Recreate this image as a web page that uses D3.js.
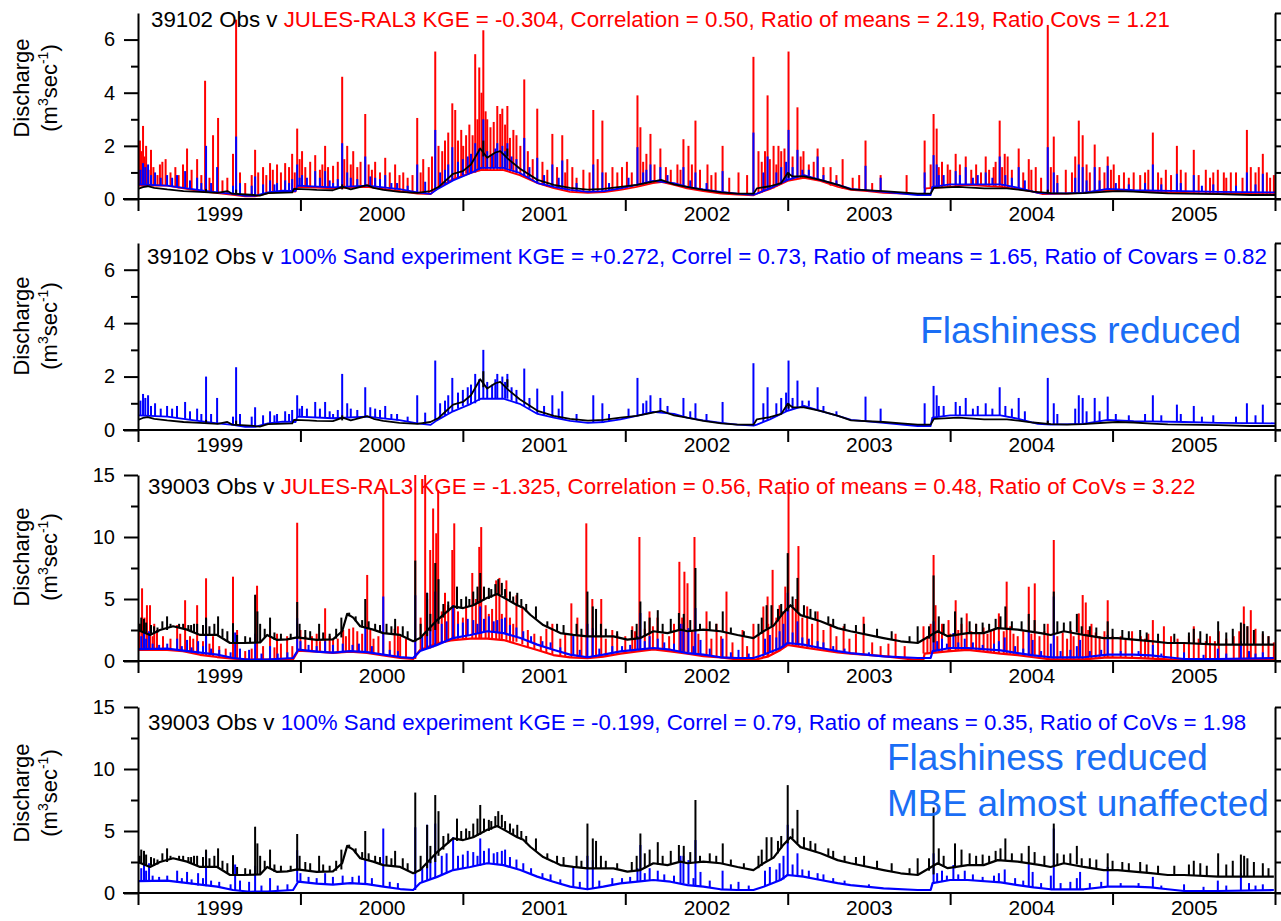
<!DOCTYPE html>
<html>
<head>
<meta charset="utf-8">
<script src="https://cdn.jsdelivr.net/npm/d3@7"></script>
<style>
  body { margin: 0; background: #fff; }
  svg { display: block; font-family: 'Liberation Sans', Arial, sans-serif; }
  .axis path, .axis line { stroke: #000; stroke-width: 2px; }
  .axis text { font-size: 20px; fill: #000; font-family: 'Liberation Sans', Arial, sans-serif; }
  .years text { font-size: 21px; }
  .base { fill: none; stroke-linejoin: round; }
  .ral { stroke: #ff0000; }
  .sand { stroke: #0000ff; }
  .obs { stroke: #000; }
  .title { font-size: 22.3px; }
  .note { font-size: 37px; fill: #1a6ef5; }
  .ylab { font-size: 22px; }
</style>
</head>
<body>
<svg id="chart" width="1281" height="921"></svg>
<script>
  // decimal years, discharge in m3/s
  const years = [1999, 2000, 2001, 2002, 2003, 2004, 2005];
  const yearEdges = [1999, 2000, 2001, 2002, 2003, 2004, 2005, 2006];

  // ---- station 39102 ----
  // observed (black) base flow [time, value]
  const obs102Base = [[1999.0,0.38],[1999.03,0.45],[1999.06,0.48],[1999.1,0.42],[1999.18,0.36],[1999.28,0.3],[1999.38,0.27],[1999.49,0.23],[1999.55,0.3],[1999.58,0.2],[1999.69,0.16],[1999.75,0.13],[1999.8,0.22],[1999.86,0.23],[1999.95,0.25],[1999.96,0.38],[2000.05,0.36],[2000.1,0.34],[2000.2,0.33],[2000.26,0.46],[2000.31,0.36],[2000.41,0.52],[2000.45,0.42],[2000.51,0.34],[2000.61,0.27],[2000.72,0.23],[2000.8,0.3],[2000.85,0.45],[2000.94,0.95],[2001.0,1.05],[2001.05,1.3],[2001.107,1.9],[2001.15,1.55],[2001.2,1.75],[2001.23,1.8],[2001.28,1.5],[2001.35,1.15],[2001.46,0.72],[2001.56,0.53],[2001.66,0.42],[2001.77,0.35],[2001.865,0.38],[2001.97,0.46],[2002.07,0.53],[2002.17,0.65],[2002.22,0.72],[2002.3,0.55],[2002.38,0.46],[2002.48,0.34],[2002.59,0.25],[2002.69,0.2],[2002.79,0.2],[2002.81,0.4],[2002.89,0.48],[2002.96,0.6],[2003.0,0.98],[2003.03,0.85],[2003.1,0.85],[2003.2,0.72],[2003.31,0.53],[2003.39,0.36],[2003.59,0.3],[2003.7,0.25],[2003.8,0.2],[2003.88,0.2],[2003.9,0.42],[2004.05,0.46],[2004.21,0.4],[2004.35,0.4],[2004.42,0.35],[2004.51,0.28],[2004.62,0.22],[2004.72,0.2],[2004.82,0.22],[2004.97,0.28],[2005.03,0.3],[2005.13,0.28],[2005.24,0.24],[2005.34,0.21],[2005.44,0.2],[2005.65,0.18],[2005.85,0.15],[2006.0,0.15]];
  // spikes: [time, peak, foot]
  const obs102Spikes = [[1999.419,0.38,0.27],[1999.604,0.35,0.18],[2000.257,0.55,0.36],[2001.126,2.2,1.6],[2001.274,1.9,1.6],[2003.005,1.0,0.8],[2004.601,0.35,0.2]];

  // JULES-RAL3 (red)
  const ral102Base = [[1999.0,0.5],[1999.18,0.5],[1999.38,0.3],[1999.49,0.22],[1999.585,0.16],[1999.66,0.1],[1999.72,0.1],[1999.8,0.22],[1999.89,0.3],[1999.97,0.28],[1999.98,0.46],[2000.2,0.4],[2000.41,0.46],[2000.61,0.3],[2000.72,0.2],[2000.8,0.18],[2000.84,0.4],[2000.94,0.75],[2001.05,0.98],[2001.11,1.09],[2001.25,1.09],[2001.35,0.9],[2001.46,0.6],[2001.56,0.41],[2001.66,0.27],[2001.77,0.23],[2001.87,0.26],[2001.97,0.34],[2002.07,0.46],[2002.17,0.6],[2002.22,0.64],[2002.3,0.53],[2002.38,0.4],[2002.48,0.3],[2002.59,0.2],[2002.69,0.17],[2002.79,0.14],[2002.81,0.2],[2002.89,0.37],[2003.0,0.68],[2003.1,0.8],[2003.2,0.68],[2003.31,0.46],[2003.39,0.34],[2003.49,0.3],[2003.59,0.23],[2003.8,0.18],[2003.84,0.17],[2003.85,0.4],[2004.0,0.46],[2004.1,0.53],[2004.31,0.46],[2004.42,0.37],[2004.51,0.28],[2004.57,0.18],[2004.72,0.2],[2004.82,0.23],[2004.97,0.34],[2005.13,0.3],[2005.24,0.27],[2005.44,0.23],[2005.65,0.2],[2006.0,0.18]];
  const ral102Spikes = [[1999.012,2.2,0.5],[1999.031,2.75,0.5],[1999.05,2.0,0.5],[1999.08,1.85,0.5],[1999.15,1.4,0.5],[1999.17,1.5,0.5],[1999.277,1.3,0.45],[1999.302,1.9,0.42],[1999.364,1.5,0.33],[1999.413,4.45,0.3],[1999.462,2.4,0.25],[1999.493,3.05,0.22],[1999.585,1.7,0.16],[1999.604,6.75,0.15],[1999.628,1.0,0.13],[1999.721,1.85,0.1],[1999.77,1.2,0.15],[1999.813,1.35,0.22],[1999.856,1.3,0.26],[1999.906,1.35,0.3],[1999.949,1.7,0.28],[1999.98,2.65,0.46],[2000.01,1.8,0.46],[2000.091,1.65,0.44],[2000.152,2.0,0.42],[2000.201,1.25,0.4],[2000.257,4.6,0.42],[2000.288,2.0,0.44],[2000.325,1.8,0.44],[2000.399,3.2,0.46],[2000.46,1.4,0.42],[2000.522,1.55,0.38],[2000.583,1.3,0.33],[2000.633,1.0,0.28],[2000.719,3.05,0.2],[2000.756,1.5,0.19],[2000.83,5.55,0.3],[2000.873,1.8,0.5],[2000.935,3.6,0.7],[2000.953,3.35,0.75],[2001.002,2.0,0.9],[2001.076,5.45,1.0],[2001.101,4.95,1.05],[2001.126,6.35,1.09],[2001.15,3.0,1.09],[2001.212,3.5,1.09],[2001.243,3.4,1.09],[2001.274,3.5,1.05],[2001.311,2.6,1.0],[2001.354,2.0,0.9],[2001.378,4.5,0.85],[2001.458,3.4,0.6],[2001.52,1.1,0.45],[2001.551,2.45,0.41],[2001.612,2.4,0.33],[2001.643,1.5,0.29],[2001.674,1.2,0.27],[2001.742,1.1,0.23],[2001.803,3.35,0.24],[2001.859,2.95,0.26],[2001.921,1.2,0.3],[2001.951,1.0,0.32],[2002.075,3.9,0.46],[2002.093,2.7,0.48],[2002.155,2.45,0.6],[2002.216,1.9,0.64],[2002.321,1.3,0.53],[2002.358,2.25,0.46],[2002.389,2.0,0.4],[2002.432,2.95,0.35],[2002.506,1.3,0.3],[2002.556,1.0,0.24],[2002.599,2.0,0.2],[2002.697,1.0,0.17],[2002.789,5.35,0.14],[2002.82,1.8,0.2],[2002.876,3.9,0.33],[2002.913,2.0,0.4],[2002.943,2.0,0.5],[2003.005,5.55,0.68],[2003.06,3.45,0.75],[2003.097,1.8,0.8],[2003.184,1.9,0.7],[2003.264,1.2,0.5],[2003.338,1.5,0.38],[2003.479,2.2,0.3],[2003.572,0.9,0.25],[2003.732,0.9,0.19],[2003.843,2.2,0.4],[2003.898,3.2,0.42],[2003.917,2.65,0.42],[2003.985,1.3,0.46],[2004.034,1.7,0.48],[2004.096,1.6,0.53],[2004.219,1.6,0.5],[2004.268,1.2,0.47],[2004.305,2.95,0.46],[2004.336,1.7,0.44],[2004.354,1.6,0.43],[2004.422,1.9,0.37],[2004.484,1.5,0.3],[2004.527,1.2,0.25],[2004.601,6.55,0.18],[2004.638,2.35,0.18],[2004.712,1.1,0.2],[2004.792,2.95,0.22],[2004.816,2.4,0.22],[2004.89,2.05,0.28],[2004.97,1.6,0.34],[2005.007,1.3,0.33],[2005.13,1.0,0.3],[2005.248,2.5,0.27],[2005.328,1.1,0.25],[2005.396,2.0,0.24],[2005.5,1.85,0.23],[2005.574,1.1,0.22],[2005.648,1.1,0.2],[2005.685,1.0,0.2],[2005.728,1.0,0.2],[2005.827,2.6,0.19],[2005.851,1.2,0.19],[2005.925,1.7,0.18],[2005.993,0.9,0.18]];
  const ral102Small = [[1999.02,1.8,0.5],[1999.04,1.6,0.5],[1999.065,1.1,0.5],[1999.095,1.2,0.5],[1999.12,0.9,0.5],[1999.135,1.3,0.5],[1999.2,1.0,0.45],[1999.23,1.2,0.45],[1999.25,0.9,0.4],[1999.33,1.1,0.35],[1999.39,0.9,0.3],[1999.44,0.8,0.25],[1999.52,0.7,0.2],[1999.55,0.8,0.18],[1999.66,0.6,0.12],[1999.7,0.9,0.1],[1999.74,1.0,0.12],[1999.79,0.9,0.2],[1999.83,1.1,0.24],[1999.88,1.0,0.28],[1999.93,1.2,0.29],[1999.965,1.0,0.3],[1999.995,1.5,0.46],[2000.03,1.2,0.46],[2000.06,1.4,0.45],[2000.12,1.1,0.44],[2000.135,1.3,0.43],[2000.17,1.2,0.42],[2000.23,1.4,0.41],[2000.27,1.5,0.43],[2000.31,1.3,0.44],[2000.35,1.2,0.45],[2000.37,1.4,0.45],[2000.42,1.3,0.45],[2000.44,1.1,0.43],[2000.49,1.0,0.4],[2000.55,1.0,0.35],[2000.61,0.9,0.3],[2000.66,0.8,0.25],[2000.69,0.9,0.22],[2000.74,1.0,0.2],[2000.79,1.2,0.2],[2000.81,1.6,0.25],[2000.85,2.0,0.4],[2000.89,2.2,0.55],[2000.91,2.5,0.6],[2000.97,2.2,0.8],[2000.99,2.6,0.85],[2001.02,2.4,0.95],[2001.04,2.8,0.97],[2001.06,2.4,1.0],[2001.09,3.0,1.05],[2001.115,4.0,1.08],[2001.14,3.3,1.09],[2001.17,2.7,1.09],[2001.19,2.9,1.09],[2001.23,3.2,1.09],[2001.26,2.8,1.08],[2001.29,2.3,1.02],[2001.33,2.4,0.95],[2001.4,1.8,0.8],[2001.43,1.5,0.7],[2001.49,1.4,0.52],[2001.58,1.2,0.38],[2001.63,1.0,0.3],[2001.7,0.8,0.25],[2001.78,1.0,0.23],[2001.83,1.5,0.25],[2001.88,1.0,0.27],[2001.98,1.2,0.35],[2002.01,1.4,0.4],[2002.04,1.0,0.43],[2002.11,1.4,0.5],[2002.13,1.7,0.55],[2002.18,1.3,0.6],[2002.25,1.2,0.6],[2002.28,1.1,0.56],[2002.34,1.1,0.5],[2002.41,1.3,0.37],[2002.46,1.1,0.32],[2002.53,0.9,0.27],[2002.64,0.8,0.18],[2002.75,0.9,0.15],[2002.84,1.4,0.25],[2002.86,1.8,0.3],[2002.89,1.5,0.37],[2002.93,1.3,0.45],[2002.96,1.8,0.55],[2002.98,1.9,0.62],[2003.03,1.6,0.72],[2003.08,1.6,0.78],[2003.13,1.3,0.78],[2003.16,1.4,0.75],[2003.22,1.2,0.65],[2003.3,0.9,0.48],[2003.4,0.8,0.34],[2003.44,0.9,0.32],[2003.52,0.6,0.28],[2003.88,1.3,0.4],[2003.93,1.2,0.43],[2003.95,1.4,0.44],[2004.0,1.1,0.46],[2004.06,1.3,0.5],[2004.13,1.1,0.53],[2004.16,1.3,0.52],[2004.19,1.0,0.51],[2004.24,1.1,0.49],[2004.28,1.4,0.47],[2004.32,1.2,0.45],[2004.38,1.1,0.4],[2004.45,1.0,0.35],[2004.5,1.1,0.3],[2004.56,0.8,0.2],[2004.62,1.2,0.18],[2004.66,0.9,0.19],[2004.75,1.0,0.21],[2004.77,1.6,0.22],[2004.84,1.3,0.24],[2004.86,1.0,0.25],[2004.92,1.2,0.3],[2004.95,1.0,0.32],[2004.99,1.1,0.34],[2005.04,0.9,0.33],[2005.07,1.0,0.32],[2005.1,0.8,0.31],[2005.17,0.9,0.29],[2005.2,1.0,0.28],[2005.22,1.1,0.28],[2005.28,1.0,0.26],[2005.3,0.8,0.26],[2005.36,0.9,0.25],[2005.42,1.1,0.24],[2005.45,1.0,0.23],[2005.53,0.9,0.23],[2005.6,0.8,0.22],[2005.62,1.0,0.21],[2005.7,0.8,0.2],[2005.76,1.0,0.2],[2005.8,0.8,0.19],[2005.88,1.0,0.19],[2005.9,1.2,0.18],[2005.95,1.0,0.18],[2005.97,0.8,0.18]];

  // 100% sand experiment (blue)
  const sand102Base = [[1999.0,0.55],[1999.18,0.5],[1999.38,0.33],[1999.49,0.25],[1999.585,0.19],[1999.66,0.12],[1999.72,0.12],[1999.8,0.25],[1999.89,0.31],[1999.97,0.3],[1999.98,0.5],[2000.2,0.44],[2000.41,0.5],[2000.61,0.37],[2000.72,0.25],[2000.8,0.19],[2000.84,0.36],[2000.94,0.7],[2001.05,0.98],[2001.11,1.17],[2001.25,1.17],[2001.35,0.98],[2001.46,0.6],[2001.56,0.46],[2001.66,0.34],[2001.77,0.27],[2001.87,0.3],[2001.97,0.4],[2002.07,0.53],[2002.17,0.68],[2002.3,0.6],[2002.38,0.46],[2002.48,0.36],[2002.59,0.27],[2002.69,0.2],[2002.79,0.16],[2002.81,0.2],[2002.89,0.4],[2003.0,0.72],[2003.1,0.9],[2003.2,0.72],[2003.31,0.53],[2003.39,0.38],[2003.59,0.27],[2003.8,0.15],[2003.88,0.15],[2003.89,0.46],[2004.0,0.55],[2004.31,0.55],[2004.42,0.42],[2004.54,0.23],[2004.62,0.2],[2004.82,0.23],[2004.97,0.38],[2005.13,0.33],[2005.44,0.3],[2005.65,0.27],[2006.0,0.25]];
  const sand102Spikes = [[1999.031,1.35,0.55],[1999.062,1.3,0.55],[1999.105,1.0,0.52],[1999.179,0.9,0.5],[1999.29,1.05,0.42],[1999.364,0.8,0.35],[1999.419,2.0,0.3],[1999.487,1.2,0.25],[1999.585,0.5,0.19],[1999.604,2.35,0.18],[1999.628,0.6,0.15],[1999.721,0.85,0.12],[1999.813,0.7,0.25],[1999.856,0.6,0.28],[1999.906,0.7,0.31],[1999.949,0.75,0.3],[1999.98,1.3,0.5],[2000.01,0.9,0.48],[2000.091,1.05,0.46],[2000.152,1.05,0.45],[2000.201,0.6,0.44],[2000.257,2.1,0.46],[2000.288,1.0,0.47],[2000.399,1.6,0.5],[2000.49,0.75,0.45],[2000.522,0.9,0.42],[2000.595,0.6,0.36],[2000.719,1.3,0.25],[2000.768,0.65,0.2],[2000.83,2.6,0.36],[2000.935,1.95,0.7],[2001.076,2.1,1.0],[2001.126,3.0,1.17],[2001.212,2.1,1.17],[2001.243,2.0,1.17],[2001.274,2.1,1.17],[2001.378,2.3,0.9],[2001.458,1.55,0.6],[2001.551,1.3,0.46],[2001.612,1.45,0.38],[2001.803,1.3,0.28],[2001.859,1.0,0.3],[2002.075,1.95,0.53],[2002.155,1.3,0.66],[2002.216,1.2,0.68],[2002.358,1.2,0.5],[2002.432,1.0,0.4],[2002.599,1.05,0.27],[2002.789,2.5,0.16],[2002.876,1.6,0.35],[2003.005,2.6,0.72],[2003.06,1.85,0.85],[2003.184,1.6,0.75],[2003.479,1.25,0.33],[2003.572,0.8,0.27],[2003.843,1.0,0.17],[2003.898,1.65,0.46],[2003.917,1.3,0.46],[2004.034,1.05,0.55],[2004.096,1.2,0.55],[2004.219,1.0,0.55],[2004.305,1.6,0.55],[2004.422,1.2,0.42],[2004.601,1.95,0.2],[2004.638,1.0,0.2],[2004.792,1.3,0.22],[2004.816,1.2,0.23],[2004.89,1.2,0.3],[2004.97,1.25,0.38],[2005.248,1.3,0.33],[2005.396,0.95,0.3],[2005.5,0.9,0.3],[2005.827,1.0,0.26],[2005.925,0.95,0.25]];
  const sand102Small = [[1999.015,1.1,0.55],[1999.045,1.2,0.55],[1999.08,0.9,0.53],[1999.14,0.8,0.5],[1999.21,0.8,0.47],[1999.24,0.9,0.45],[1999.32,0.7,0.38],[1999.39,0.6,0.32],[1999.45,0.6,0.27],[1999.7,0.5,0.12],[1999.77,0.55,0.18],[1999.84,0.55,0.27],[1999.93,0.6,0.3],[1999.995,0.8,0.5],[2000.04,0.8,0.48],[2000.12,0.8,0.46],[2000.18,0.7,0.45],[2000.23,0.75,0.45],[2000.31,0.8,0.47],[2000.35,0.75,0.48],[2000.43,0.85,0.49],[2000.46,0.8,0.46],[2000.56,0.6,0.4],[2000.66,0.5,0.3],[2000.86,1.0,0.45],[2000.89,1.1,0.55],[2000.91,1.3,0.62],[2000.97,1.4,0.8],[2001.0,1.5,0.9],[2001.03,1.6,0.95],[2001.05,1.7,0.98],[2001.1,1.9,1.1],[2001.15,1.8,1.17],[2001.18,1.7,1.17],[2001.2,1.9,1.17],[2001.26,1.8,1.17],[2001.3,1.6,1.1],[2001.33,1.5,1.0],[2001.41,1.2,0.8],[2001.5,0.9,0.55],[2001.59,0.8,0.42],[2001.7,0.6,0.3],[2001.9,0.6,0.33],[2002.02,0.8,0.46],[2002.11,1.0,0.6],[2002.13,1.1,0.62],[2002.26,0.9,0.65],[2002.4,0.7,0.44],[2002.5,0.6,0.35],[2002.85,1.0,0.3],[2002.93,1.0,0.5],[2002.96,1.2,0.6],[2002.99,1.4,0.7],[2003.03,1.2,0.78],[2003.09,1.1,0.88],[2003.13,1.1,0.88],[2003.22,0.9,0.7],[2003.3,0.7,0.55],[2003.93,0.9,0.5],[2003.96,0.9,0.52],[2004.06,0.9,0.55],[2004.14,0.8,0.55],[2004.17,0.9,0.55],[2004.26,0.8,0.55],[2004.34,0.9,0.52],[2004.38,0.8,0.48],[2004.46,0.7,0.37],[2004.66,0.6,0.2],[2004.77,0.8,0.22],[2004.84,0.7,0.25],[2004.92,0.7,0.33],[2005.02,0.6,0.37],[2005.1,0.55,0.34],[2005.2,0.6,0.33],[2005.3,0.55,0.32],[2005.42,0.6,0.3],[2005.55,0.5,0.29],[2005.62,0.55,0.28],[2005.76,0.5,0.27],[2005.88,0.55,0.26]];

  // ---- station 39003 ----
  const obs003Base = [[1999.0,2.5],[1999.074,2.1],[1999.135,2.5],[1999.216,2.8],[1999.302,2.53],[1999.382,2.1],[1999.487,2.1],[1999.567,1.45],[1999.647,1.45],[1999.752,1.5],[1999.795,2.1],[1999.856,1.7],[1999.918,1.75],[1999.98,1.9],[2000.1,1.7],[2000.2,1.75],[2000.257,2.4],[2000.288,3.8],[2000.325,3.5],[2000.368,2.8],[2000.448,2.53],[2000.51,2.25],[2000.614,2.1],[2000.694,1.6],[2000.737,1.85],[2000.842,3.3],[2000.94,4.4],[2001.002,4.27],[2001.064,4.5],[2001.15,5.1],[2001.212,5.4],[2001.274,4.95],[2001.335,4.5],[2001.372,4.3],[2001.415,3.73],[2001.495,2.9],[2001.557,2.53],[2001.6,2.25],[2001.68,2.1],[2001.767,1.99],[2001.927,1.99],[2002.013,1.72],[2002.093,1.85],[2002.173,2.4],[2002.26,2.25],[2002.34,2.53],[2002.383,2.4],[2002.481,2.53],[2002.586,2.4],[2002.691,2.1],[2002.789,1.85],[2002.851,2.4],[2002.913,2.85],[2002.974,3.9],[2003.017,4.5],[2003.079,3.7],[2003.202,3.2],[2003.307,2.65],[2003.387,2.4],[2003.59,1.85],[2003.695,1.59],[2003.8,1.45],[2003.923,2.4],[2003.985,2.0],[2004.108,2.25],[2004.206,2.25],[2004.293,2.65],[2004.416,2.53],[2004.558,2.25],[2004.619,2.1],[2004.7,2.4],[2004.823,2.1],[2004.946,1.85],[2005.032,1.85],[2005.13,1.72],[2005.235,1.6],[2005.34,1.45],[2005.44,1.45],[2005.648,1.32],[2005.851,1.32],[2005.993,1.32]];
  const obs003Spikes = [[1999.037,3.4,2.3],[1999.099,2.8,2.2],[1999.179,3.6,2.5],[1999.253,3.0,2.7],[1999.278,3.0,2.6],[1999.327,2.9,2.4],[1999.364,3.0,2.2],[1999.419,3.5,2.1],[1999.493,3.6,2.1],[1999.585,3.05,1.45],[1999.721,5.35,1.45],[1999.752,3.0,1.5],[1999.813,3.5,2.0],[1999.98,4.76,1.8],[2000.115,3.0,1.7],[2000.252,3.5,1.9],[2000.399,5.0,2.7],[2000.583,3.4,2.1],[2000.707,8.1,1.55],[2000.78,5.5,2.0],[2000.83,7.9,2.5],[2000.85,6.6,3.0],[2000.964,6.0,4.2],[2001.064,5.6,4.5],[2001.107,7.1,4.7],[2001.175,5.8,5.1],[2001.218,6.6,5.3],[2001.335,5.5,4.5],[2001.45,4.4,3.4],[2001.767,5.6,2.0],[2001.8,4.4,2.0],[2001.82,4.2,2.0],[2002.093,4.8,1.85],[2002.2,4.1,2.3],[2002.33,3.87,2.5],[2002.432,7.5,2.5],[2002.6,4.0,2.4],[2002.87,4.5,2.6],[2002.9,4.5,2.8],[2003.0,8.7,4.0],[2003.06,6.7,4.0],[2003.8,2.8,1.45],[2003.898,6.9,1.5],[2004.03,4.0,2.0],[2004.28,3.4,2.6],[2004.34,4.4,2.6],[2004.484,3.8,2.4],[2004.638,5.6,2.1],[2004.78,3.8,2.3],[2004.97,3.2,1.85],[2005.5,2.6,1.45],[2005.65,3.2,1.32],[2005.79,3.1,1.32],[2005.81,3.0,1.32],[2005.925,2.4,1.32]];
  const obs003Small = [[1999.01,3.0,2.4],[1999.02,3.5,2.4],[1999.05,3.1,2.2],[1999.08,2.9,2.2],[1999.12,2.7,2.3],[1999.15,3.2,2.6],[1999.2,3.0,2.7],[1999.31,2.9,2.5],[1999.345,3.0,2.3],[1999.4,2.9,2.1],[1999.44,2.8,2.1],[1999.47,3.0,2.1],[1999.52,2.6,1.9],[1999.55,2.4,1.6],[1999.61,2.1,1.45],[1999.66,2.0,1.45],[1999.69,1.9,1.45],[1999.735,4.0,1.45],[1999.78,2.6,1.9],[1999.84,2.3,1.7],[1999.88,2.2,1.7],[1999.94,2.2,1.75],[1999.995,3.0,1.85],[2000.03,2.5,1.8],[2000.06,2.4,1.75],[2000.14,2.3,1.7],[2000.18,2.2,1.72],[2000.22,2.6,1.8],[2000.3,3.9,3.6],[2000.34,3.6,3.2],[2000.38,3.3,2.7],[2000.42,3.2,2.6],[2000.46,3.0,2.5],[2000.49,2.9,2.3],[2000.53,3.0,2.2],[2000.56,2.8,2.15],[2000.63,2.8,2.0],[2000.66,2.4,1.8],[2000.74,3.0,1.9],[2000.8,3.8,2.4],[2000.88,4.6,3.5],[2000.91,4.8,4.0],[2000.99,5.0,4.3],[2001.02,5.2,4.3],[2001.04,5.0,4.4],[2001.09,6.0,4.6],[2001.13,6.0,4.9],[2001.16,5.9,5.0],[2001.2,6.2,5.3],[2001.24,6.3,5.3],[2001.26,5.8,5.1],[2001.29,5.6,4.9],[2001.31,5.2,4.7],[2001.36,5.0,4.3],[2001.39,4.6,4.0],[2001.52,3.2,2.7],[2001.58,3.0,2.4],[2001.62,2.9,2.2],[2001.7,3.0,2.1],[2001.73,2.6,2.05],[2001.85,3.0,2.0],[2001.88,2.6,2.0],[2001.95,2.4,1.9],[2002.04,2.5,1.75],[2002.07,3.0,1.8],[2002.12,3.2,2.0],[2002.15,3.5,2.2],[2002.23,3.0,2.3],[2002.28,3.4,2.3],[2002.36,3.8,2.5],[2002.4,3.3,2.4],[2002.46,3.0,2.5],[2002.52,3.2,2.5],[2002.56,3.0,2.45],[2002.65,2.7,2.2],[2002.73,2.4,2.0],[2002.82,3.0,2.0],[2002.84,3.5,2.2],[2002.94,4.2,3.2],[2002.96,4.6,3.6],[2003.03,5.2,4.4],[2003.1,4.5,3.6],[2003.14,4.2,3.5],[2003.17,4.0,3.3],[2003.25,3.6,3.0],[2003.28,3.4,2.8],[2003.35,3.0,2.5],[2003.42,2.9,2.3],[2003.47,3.0,2.2],[2003.55,2.6,1.95],[2003.64,2.4,1.7],[2003.75,2.0,1.5],[2003.87,2.8,1.8],[2003.93,3.6,2.3],[2003.96,3.0,2.1],[2004.07,3.5,2.1],[2004.12,3.2,2.25],[2004.16,3.0,2.25],[2004.2,3.1,2.25],[2004.24,3.0,2.4],[2004.31,3.6,2.65],[2004.38,3.2,2.6],[2004.44,3.2,2.5],[2004.52,3.3,2.4],[2004.58,3.0,2.2],[2004.66,3.2,2.2],[2004.7,3.1,2.4],[2004.74,3.2,2.3],[2004.81,2.8,2.1],[2004.86,2.8,2.0],[2004.9,2.7,1.95],[2005.0,2.6,1.85],[2005.06,2.5,1.8],[2005.1,2.4,1.75],[2005.17,2.5,1.7],[2005.21,2.3,1.65],[2005.28,2.2,1.55],[2005.38,2.2,1.45],[2005.47,2.3,1.45],[2005.54,2.4,1.4],[2005.58,2.2,1.38],[2005.7,2.3,1.32],[2005.74,2.6,1.32],[2005.83,2.8,1.32],[2005.87,2.5,1.32],[2005.96,2.0,1.32]];

  const ral003Base = [[1999.0,0.9],[1999.179,0.9],[1999.277,0.8],[1999.382,0.5],[1999.487,0.32],[1999.585,0.19],[1999.69,0.11],[1999.795,0.12],[1999.955,0.15],[1999.986,0.83],[2000.1,0.75],[2000.2,0.65],[2000.306,0.75],[2000.41,0.65],[2000.51,0.45],[2000.614,0.25],[2000.694,0.16],[2000.737,0.89],[2000.842,1.42],[2000.94,1.69],[2001.046,1.8],[2001.15,1.8],[2001.25,1.69],[2001.354,1.29],[2001.458,0.89],[2001.557,0.48],[2001.66,0.29],[2001.767,0.22],[2001.865,0.35],[2001.97,0.6],[2002.075,0.78],[2002.173,0.94],[2002.278,0.78],[2002.383,0.6],[2002.481,0.4],[2002.586,0.29],[2002.691,0.13],[2002.789,0.08],[2002.876,0.35],[2002.956,0.89],[2002.999,1.29],[2003.097,1.1],[2003.202,0.89],[2003.307,0.7],[2003.387,0.6],[2003.59,0.4],[2003.8,0.08],[2003.835,0.08],[2003.843,0.6],[2004.0,0.8],[2004.108,0.89],[2004.206,0.75],[2004.311,0.6],[2004.416,0.48],[2004.514,0.3],[2004.619,0.13],[2004.823,0.13],[2004.97,0.29],[2005.13,0.25],[2005.34,0.13],[2005.44,0.08],[2005.993,0.08]];
  const ral003Spikes = [[1999.025,5.86,0.9],[1999.055,4.5,0.9],[1999.074,4.5,0.9],[1999.117,2.5,0.9],[1999.154,2.0,0.9],[1999.241,2.9,0.85],[1999.29,4.9,0.8],[1999.364,4.5,0.6],[1999.419,6.67,0.45],[1999.462,2.0,0.38],[1999.585,6.8,0.19],[1999.61,2.5,0.17],[1999.733,6.07,0.11],[1999.813,2.5,0.12],[1999.856,2.2,0.12],[1999.918,2.0,0.14],[1999.98,11.15,0.8],[2000.071,2.0,0.78],[2000.152,4.25,0.7],[2000.201,1.8,0.66],[2000.263,2.5,0.7],[2000.325,2.7,0.74],[2000.411,6.94,0.64],[2000.43,2.5,0.6],[2000.51,13.8,0.45],[2000.614,2.0,0.25],[2000.707,15.2,0.16],[2000.768,15.2,0.9],[2000.799,8.95,1.0],[2000.817,12.3,1.1],[2000.836,10.3,1.2],[2000.848,13.8,1.3],[2000.935,8.95,1.6],[2000.947,11.1,1.65],[2001.058,7.1,1.8],[2001.101,9.2,1.8],[2001.113,10.8,1.8],[2001.205,6.5,1.75],[2001.225,6.7,1.72],[2001.268,6.5,1.7],[2001.33,5.3,1.55],[2001.366,4.4,1.35],[2001.514,2.6,0.7],[2001.551,3.0,0.55],[2001.668,4.65,0.29],[2001.705,3.5,0.25],[2001.76,11.1,0.22],[2001.797,5.0,0.25],[2001.852,5.0,0.3],[2001.92,2.5,0.45],[2002.043,2.8,0.7],[2002.087,10.0,0.78],[2002.149,4.0,0.86],[2002.198,3.5,0.9],[2002.333,8.0,0.75],[2002.364,7.2,0.7],[2002.383,6.27,0.6],[2002.426,10.0,0.5],[2002.5,4.0,0.4],[2002.562,3.0,0.3],[2002.623,5.6,0.25],[2002.722,2.5,0.12],[2002.789,3.0,0.08],[2002.85,4.4,0.3],[2002.876,5.2,0.35],[2002.907,7.35,0.5],[2002.968,4.0,1.0],[2003.005,14.3,1.29],[2003.066,9.27,1.2],[2003.12,4.4,1.05],[2003.184,4.0,0.9],[2003.264,3.0,0.75],[2003.344,2.8,0.62],[2003.467,3.57,0.55],[2003.572,1.2,0.45],[2003.664,2.2,0.3],[2003.836,2.8,0.6],[2003.898,8.55,0.7],[2003.91,4.5,0.7],[2003.99,3.3,0.8],[2004.034,4.9,0.8],[2004.102,3.84,0.89],[2004.206,2.7,0.75],[2004.25,2.5,0.7],[2004.3,3.84,0.62],[2004.348,6.4,0.58],[2004.416,2.0,0.48],[2004.484,5.99,0.4],[2004.521,6.26,0.35],[2004.601,3.0,0.2],[2004.638,9.76,0.15],[2004.693,2.3,0.13],[2004.743,2.5,0.13],[2004.792,3.84,0.13],[2004.816,5.32,0.13],[2004.835,4.72,0.15],[2004.896,2.3,0.2],[2004.97,4.9,0.29],[2005.05,2.0,0.27],[2005.174,2.0,0.22],[2005.248,3.3,0.18],[2005.316,2.8,0.15],[2005.44,1.5,0.08],[2005.5,2.8,0.08],[2005.574,1.6,0.08],[2005.654,2.4,0.08],[2005.746,2.0,0.08],[2005.808,4.4,0.08],[2005.851,4.1,0.08],[2005.925,2.2,0.08],[2005.993,1.5,0.08]];
  const ral003Small = [[1999.01,3.0,0.9],[1999.04,3.5,0.9],[1999.09,2.0,0.9],[1999.1,3.0,0.9],[1999.2,1.8,0.88],[1999.26,2.2,0.84],[1999.32,2.0,0.7],[1999.34,1.8,0.65],[1999.4,1.6,0.5],[1999.44,1.4,0.42],[1999.5,1.2,0.3],[1999.54,1.0,0.25],[1999.66,0.8,0.13],[1999.7,1.0,0.11],[1999.77,1.2,0.11],[1999.84,1.1,0.12],[1999.88,1.4,0.13],[1999.95,1.2,0.15],[2000.0,2.5,0.82],[2000.03,2.0,0.8],[2000.1,2.2,0.75],[2000.12,1.6,0.74],[2000.18,2.0,0.68],[2000.23,1.8,0.68],[2000.28,2.0,0.72],[2000.3,2.6,0.74],[2000.35,2.4,0.72],[2000.38,2.2,0.7],[2000.45,1.8,0.6],[2000.48,2.0,0.5],[2000.55,1.6,0.38],[2000.58,2.6,0.3],[2000.6,2.8,0.27],[2000.65,1.8,0.2],[2000.74,3.5,0.9],[2000.78,5.0,1.0],[2000.87,4.0,1.45],[2000.89,5.5,1.5],[2000.91,4.5,1.6],[2000.97,4.0,1.7],[2001.0,3.5,1.72],[2001.02,4.5,1.75],[2001.08,5.0,1.8],[2001.14,4.5,1.8],[2001.16,3.8,1.8],[2001.18,4.2,1.78],[2001.24,3.8,1.7],[2001.29,3.5,1.62],[2001.31,3.0,1.55],[2001.4,2.5,1.1],[2001.44,2.2,0.95],[2001.48,2.0,0.8],[2001.6,1.8,0.4],[2001.63,2.2,0.33],[2001.73,2.0,0.23],[2001.82,2.4,0.26],[2001.88,1.8,0.38],[2001.95,2.2,0.55],[2002.0,2.0,0.65],[2002.06,2.4,0.76],[2002.12,2.6,0.85],[2002.17,2.8,0.92],[2002.23,2.2,0.88],[2002.27,2.0,0.8],[2002.3,3.0,0.75],[2002.35,3.5,0.7],[2002.41,2.5,0.55],[2002.45,2.2,0.47],[2002.53,1.8,0.35],[2002.59,2.0,0.3],[2002.66,1.5,0.2],[2002.75,1.2,0.1],[2002.82,2.0,0.2],[2002.88,3.0,0.4],[2002.93,3.5,0.7],[2002.95,4.5,0.85],[2002.985,6.0,1.1],[2003.03,4.5,1.25],[2003.05,5.0,1.2],[2003.09,3.5,1.12],[2003.15,3.0,1.0],[2003.22,2.5,0.85],[2003.3,2.0,0.7],[2003.38,1.8,0.6],[2003.42,2.2,0.55],[2003.52,1.5,0.5],[2003.62,1.4,0.38],[2003.72,1.2,0.2],[2003.86,2.0,0.62],[2003.88,3.0,0.66],[2003.93,2.5,0.72],[2003.95,3.0,0.75],[2004.0,2.2,0.8],[2004.05,2.5,0.83],[2004.07,3.0,0.85],[2004.13,2.4,0.88],[2004.16,3.0,0.85],[2004.18,2.2,0.8],[2004.23,2.2,0.72],[2004.27,2.6,0.68],[2004.33,2.4,0.6],[2004.37,2.8,0.56],[2004.39,2.2,0.53],[2004.45,2.4,0.44],[2004.5,2.2,0.35],[2004.55,2.0,0.25],[2004.58,2.4,0.2],[2004.66,2.0,0.13],[2004.72,1.8,0.13],[2004.76,2.0,0.13],[2004.85,2.5,0.15],[2004.87,3.0,0.17],[2004.92,2.0,0.23],[2004.95,2.4,0.27],[2005.0,2.0,0.28],[2005.08,1.8,0.26],[2005.12,2.4,0.25],[2005.2,1.8,0.21],[2005.22,2.2,0.2],[2005.28,1.6,0.17],[2005.36,2.0,0.12],[2005.4,1.8,0.1],[2005.47,2.0,0.08],[2005.53,1.8,0.08],[2005.6,2.0,0.08],[2005.63,1.6,0.08],[2005.7,1.8,0.08],[2005.78,2.4,0.08],[2005.83,2.8,0.08],[2005.88,2.6,0.08],[2005.96,2.0,0.08]];

  const sand003Base = [[1999.0,0.95],[1999.179,1.0],[1999.487,0.51],[1999.585,0.24],[1999.69,0.1],[1999.795,0.12],[1999.955,0.24],[1999.986,0.91],[2000.1,0.75],[2000.2,0.67],[2000.306,0.8],[2000.41,0.72],[2000.51,0.51],[2000.614,0.32],[2000.694,0.24],[2000.737,0.8],[2000.842,1.3],[2000.94,1.85],[2001.046,2.1],[2001.15,2.4],[2001.25,2.25],[2001.354,1.85],[2001.458,1.32],[2001.557,0.91],[2001.66,0.51],[2001.767,0.3],[2001.865,0.51],[2001.97,0.78],[2002.075,0.91],[2002.173,1.05],[2002.278,0.91],[2002.383,0.64],[2002.481,0.51],[2002.586,0.3],[2002.691,0.24],[2002.789,0.24],[2002.851,0.51],[2002.956,1.05],[2002.999,1.45],[2003.097,1.32],[2003.202,1.05],[2003.307,0.8],[2003.387,0.64],[2003.59,0.37],[2003.8,0.24],[2003.88,0.24],[2003.892,0.8],[2004.0,1.05],[2004.108,1.05],[2004.311,0.85],[2004.416,0.64],[2004.514,0.45],[2004.619,0.3],[2004.823,0.3],[2004.97,0.51],[2005.13,0.51],[2005.235,0.45],[2005.34,0.3],[2005.44,0.16],[2005.648,0.16],[2005.993,0.24]];
  const sand003Spikes = [[1999.037,2.8,0.95],[1999.068,2.4,0.95],[1999.241,1.8,0.85],[1999.302,1.7,0.75],[1999.37,1.6,0.6],[1999.419,3.4,0.55],[1999.598,2.3,0.2],[1999.628,1.0,0.15],[1999.684,0.9,0.1],[1999.721,2.2,0.1],[1999.813,1.2,0.13],[1999.98,3.45,0.9],[2000.152,1.6,0.72],[2000.399,2.7,0.7],[2000.51,5.2,0.51],[2000.707,5.3,0.24],[2000.78,5.5,1.0],[2000.83,5.6,1.2],[2000.94,4.5,1.85],[2001.064,3.3,2.1],[2001.107,4.4,2.2],[2001.212,3.3,2.3],[2001.26,3.5,2.25],[2001.372,2.4,1.8],[2001.54,1.5,1.0],[2001.68,2.1,0.45],[2001.767,3.0,0.3],[2001.8,2.65,0.35],[2001.92,1.2,0.6],[2002.075,2.0,0.9],[2002.093,3.87,0.9],[2002.2,1.8,1.0],[2002.34,3.0,0.8],[2002.358,3.0,0.75],[2002.389,2.65,0.7],[2002.432,4.27,0.6],[2002.463,1.7,0.55],[2002.599,1.8,0.3],[2002.697,0.9,0.24],[2002.86,1.8,0.55],[2002.89,2.1,0.7],[2002.974,3.0,1.1],[2003.0,5.5,1.45],[2003.06,3.2,1.4],[2003.184,1.6,1.1],[2003.898,3.2,0.8],[2004.02,2.26,1.05],[2004.09,1.8,1.05],[2004.336,1.9,0.8],[2004.484,2.4,0.5],[2004.508,1.7,0.48],[2004.638,5.2,0.3],[2004.8,1.7,0.3],[2004.97,2.1,0.51],[2005.248,1.3,0.45],[2005.44,0.7,0.16],[2005.648,1.0,0.16],[2005.79,1.6,0.2],[2005.925,0.7,0.22]];
  const sand003Small = [[1999.02,2.0,0.95],[1999.05,1.8,0.95],[1999.09,1.4,0.97],[1999.13,1.3,0.98],[1999.18,1.4,1.0],[1999.27,1.2,0.8],[1999.33,1.1,0.7],[1999.4,1.2,0.58],[1999.45,1.0,0.5],[1999.5,0.9,0.45],[1999.57,0.7,0.26],[1999.76,0.6,0.11],[1999.86,0.6,0.15],[1999.92,0.7,0.2],[2000.0,1.6,0.88],[2000.05,1.3,0.8],[2000.1,1.2,0.75],[2000.2,1.3,0.67],[2000.26,1.4,0.75],[2000.32,1.3,0.8],[2000.36,1.4,0.78],[2000.44,1.2,0.65],[2000.55,0.9,0.45],[2000.6,0.8,0.35],[2000.75,2.0,0.85],[2000.8,2.7,1.1],[2000.87,3.0,1.45],[2000.9,3.2,1.6],[2000.97,3.0,1.9],[2001.0,3.1,2.0],[2001.03,3.4,2.05],[2001.09,3.0,2.2],[2001.13,3.4,2.3],[2001.16,3.6,2.4],[2001.19,3.2,2.35],[2001.24,3.4,2.3],[2001.29,2.9,2.15],[2001.33,2.7,1.95],[2001.42,2.0,1.5],[2001.49,1.6,1.2],[2001.6,1.1,0.75],[2001.72,0.9,0.4],[2001.84,1.0,0.45],[2001.98,1.2,0.8],[2002.03,1.3,0.85],[2002.12,1.6,0.95],[2002.15,2.0,1.0],[2002.24,1.5,0.98],[2002.3,1.4,0.88],[2002.42,1.2,0.6],[2002.52,1.0,0.45],[2002.65,0.7,0.26],[2002.76,0.6,0.24],[2002.93,1.9,0.9],[2002.95,2.4,1.0],[2003.03,2.3,1.4],[2003.09,1.9,1.33],[2003.13,1.8,1.25],[2003.22,1.5,1.0],[2003.28,1.2,0.85],[2003.35,1.0,0.7],[2003.5,0.7,0.5],[2003.92,1.6,0.85],[2003.95,1.8,0.95],[2003.98,1.4,1.0],[2004.05,1.5,1.05],[2004.14,1.5,1.0],[2004.2,1.3,0.95],[2004.27,1.4,0.88],[2004.3,1.6,0.86],[2004.4,1.2,0.67],[2004.45,1.0,0.6],[2004.56,0.8,0.38],[2004.62,1.4,0.3],[2004.68,0.8,0.3],[2004.74,0.9,0.3],[2004.78,1.2,0.3],[2004.86,0.8,0.35],[2004.93,0.9,0.45],[2005.05,0.8,0.51],[2005.16,0.8,0.5],[2005.3,0.6,0.35],[2005.56,0.5,0.16],[2005.7,0.6,0.17],[2005.84,0.8,0.2],[2005.88,0.6,0.21]];

  const titles = [
    ["39102 Obs v ", "JULES-RAL3 KGE = -0.304, Correlation = 0.50, Ratio of means = 2.19, Ratio Covs = 1.21"],
    ["39102 Obs v ", "100% Sand experiment KGE = +0.272, Correl = 0.73, Ratio of means = 1.65, Ratio of Covars = 0.82"],
    ["39003 Obs v ", "JULES-RAL3 KGE = -1.325, Correlation = 0.56, Ratio of means = 0.48, Ratio of CoVs = 3.22"],
    ["39003 Obs v ", "100% Sand experiment KGE = -0.199, Correl = 0.79, Ratio of means = 0.35, Ratio of CoVs = 1.98"]
  ];

  const svg = d3.select("#chart");
  svg.append("rect").attr("width", 1281).attr("height", 921).attr("fill", "#fff");

  const x = d3.scaleLinear().domain([1999, 2006]).range([138, 1275]);

  const ral102 = { base: ral102Base, spikes: ral102Small.concat(ral102Spikes), cls: "ral" };
  const sand102 = { base: sand102Base, spikes: sand102Small.concat(sand102Spikes), cls: "sand" };
  const obs102 = { base: obs102Base, spikes: obs102Spikes, cls: "obs" };
  const ral003 = { base: ral003Base, spikes: ral003Small.concat(ral003Spikes), cls: "ral" };
  const sand003 = { base: sand003Base, spikes: sand003Small.concat(sand003Spikes), cls: "sand" };
  const obs003 = { base: obs003Base, spikes: obs003Small.concat(obs003Spikes), cls: "obs" };

  const panels = [
    { top: 13, zero: 199, ymax: 7, major: [0, 2, 4, 6], minor: [1, 3, 5], right: d3.range(0, 8, 1),
      series: [ral102, sand102, obs102], titleY: 27, titleX: 151, labelY: 88, titleColor: "#ff0000", width: 1.8 },
    { top: 243, zero: 430, ymax: 7, major: [0, 2, 4, 6], minor: [1, 3, 5], right: d3.range(0, 8, 1),
      series: [sand102, obs102], titleY: 264, titleX: 147, labelY: 326, titleColor: "#0000ff", width: 1.8 },
    { top: 475, zero: 661, ymax: 15, major: [0, 5, 10, 15], minor: [2.5, 7.5, 12.5], right: d3.range(0, 15.1, 2.5),
      series: [ral003, sand003, obs003], titleY: 494, titleX: 148, labelY: 557, titleColor: "#ff0000", width: 2.2 },
    { top: 707, zero: 893, ymax: 15, major: [0, 5, 10, 15], minor: [2.5, 7.5, 12.5], right: d3.range(0, 15.1, 2.5),
      series: [sand003, obs003], titleY: 730, titleX: 148, labelY: 793, titleColor: "#0000ff", width: 2.2 }
  ];

  panels.forEach(function(p, i) {
    var y = d3.scaleLinear().domain([0, p.ymax]).range([p.zero, p.top]);
    var g = svg.append("g");

    g.append("defs").append("clipPath")
        .attr("id", "clip" + i)
      .append("rect")
        .attr("x", x(1999)).attr("y", p.top)
        .attr("width", x(2006) - x(1999)).attr("height", p.zero - p.top);

    var line = d3.line()
        .x(function(d) { return x(d[0]); })
        .y(function(d) { return y(d[1]); });

    var plot = g.append("g").attr("clip-path", "url(#clip" + i + ")");
    p.series.forEach(function(s) {
      plot.append("path")
          .datum(s.base)
          .attr("class", "base " + s.cls)
          .attr("stroke-width", p.width)
          .attr("d", line);
      plot.append("g")
          .attr("class", s.cls)
          .attr("stroke-width", 2)
        .selectAll("line")
        .data(s.spikes)
        .join("line")
          .attr("x1", function(d) { return x(d[0]); })
          .attr("x2", function(d) { return x(d[0]); })
          .attr("y1", function(d) { return y(d[2]); })
          .attr("y2", function(d) { return y(d[1]); });
    });

    // left axis, major + minor ticks
    g.append("g")
        .attr("class", "axis")
        .attr("transform", "translate(" + x(1999) + ",0)")
        .call(d3.axisLeft(y).tickValues(p.major).tickSize(14).tickSizeOuter(0).tickPadding(9)
          .tickFormat(d3.format("~g")));
    g.append("g")
        .attr("class", "axis")
        .attr("transform", "translate(" + x(1999) + ",0)")
        .call(d3.axisLeft(y).tickValues(p.minor).tickSize(7).tickFormat(""))
        .call(function(a) { a.select(".domain").remove(); });

    // right axis
    g.append("g")
        .attr("class", "axis")
        .attr("transform", "translate(" + x(2006) + ",0)")
        .call(d3.axisRight(y).tickValues(p.right).tickSize(8).tickSizeOuter(0).tickFormat(""));

    // bottom axis
    g.append("line")
        .attr("x1", x(1999) - 15).attr("x2", 1281)
        .attr("y1", p.zero).attr("y2", p.zero)
        .attr("stroke", "#000").attr("stroke-width", 2);
    g.append("g")
        .attr("class", "axis")
        .attr("transform", "translate(0," + p.zero + ")")
        .call(d3.axisBottom(x).tickValues(yearEdges).tickSize(12).tickFormat(""))
        .call(function(a) { a.select(".domain").remove(); });
    g.append("g")
        .attr("class", "axis years")
        .attr("transform", "translate(0," + p.zero + ")")
        .call(d3.axisBottom(x).tickValues(years.map(function(v) { return v + 0.5; }))
          .tickSize(0).tickPadding(7).tickFormat(function(v) { return Math.floor(v); }))
        .call(function(a) { a.select(".domain").remove(); });

    // title
    var t = g.append("text")
        .attr("class", "title")
        .attr("x", p.titleX).attr("y", p.titleY);
    t.append("tspan").attr("fill", "#000").text(titles[i][0]);
    t.append("tspan").attr("fill", p.titleColor).text(titles[i][1]);

    // y label
    var lab = g.append("g")
        .attr("class", "ylab")
        .attr("transform", "translate(0," + p.labelY + ") rotate(-90)");
    lab.append("text").attr("x", 0).attr("y", 29).attr("text-anchor", "middle").text("Discharge");
    var l2 = lab.append("text").attr("x", 0).attr("y", 57).attr("text-anchor", "middle");
    l2.append("tspan").text("(m");
    l2.append("tspan").attr("dy", -9).attr("font-size", 14).text("3");
    l2.append("tspan").attr("dy", 9).text("sec");
    l2.append("tspan").attr("dy", -9).attr("font-size", 14).text("-1");
    l2.append("tspan").attr("dy", 9).text(")");
  });

  // annotations
  svg.append("text").attr("class", "note").attr("x", 1241).attr("y", 343)
      .attr("text-anchor", "end").text("Flashiness reduced");
  svg.append("text").attr("class", "note").attr("x", 887).attr("y", 770).text("Flashiness reduced");
  svg.append("text").attr("class", "note").attr("x", 887).attr("y", 816).text("MBE almost unaffected");
</script>
</body>
</html>
